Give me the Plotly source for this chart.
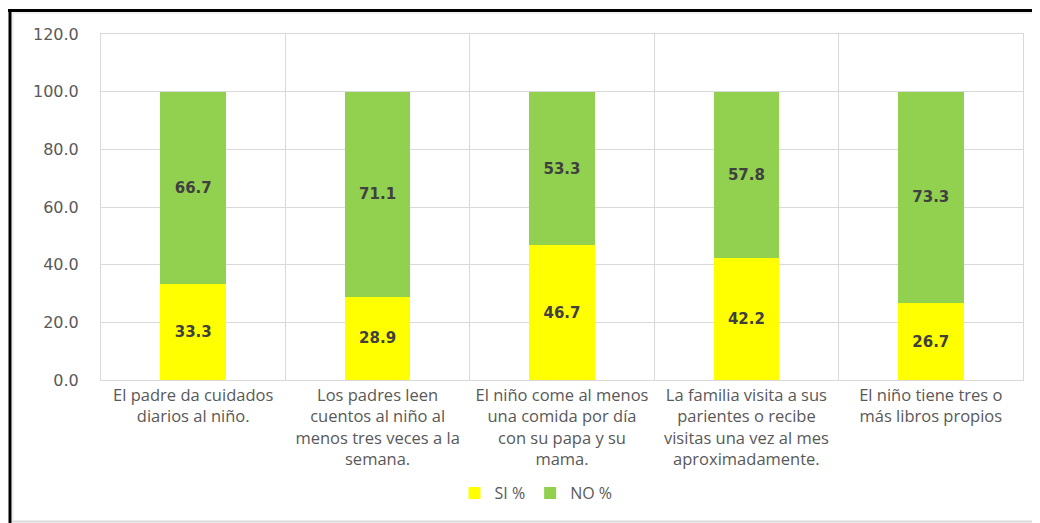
import plotly.graph_objects as go

categories = [
    "El padre da cuidados<br>diarios al niño.",
    "Los padres leen<br>cuentos al niño al<br>menos tres veces a la<br>semana.",
    "El niño come al menos<br>una comida por día<br>con su papa y su<br>mama.",
    "La familia visita a sus<br>parientes o recibe<br>visitas una vez al mes<br>aproximadamente.",
    "El niño tiene tres o<br>más libros propios",
]
si_values = [33.3, 28.9, 46.7, 42.2, 26.7]
no_values = [66.7, 71.1, 53.3, 57.8, 73.3]
series_names = ["SI %", "NO %"]
y_ticks = [0, 20, 40, 60, 80, 100, 120]

O = 8  # page body offset
W, H = 1040 - O, 523 - O
L, R, T, B = 101 - O, 17, 34 - O, 143
pw, ph = W - L - R, H - T - B

def px(x):
    return (x - O - L) / pw

def py(y):
    return (H + O - B - y) / ph

label_font = dict(family="DejaVu Sans", size=15, color="#404040", weight="bold")

fig = go.Figure()
fig.add_trace(go.Bar(
    x=categories, y=si_values, name=series_names[0],
    marker=dict(color="#FFFF00", line=dict(width=0)),
    text=[f"{v:.1f}" for v in si_values], textposition="inside",
    insidetextanchor="middle", textfont=label_font, textangle=0,
))
fig.add_trace(go.Bar(
    x=categories, y=no_values, name=series_names[1],
    marker=dict(color="#92D050", line=dict(width=0)),
    text=[f"{v:.1f}" for v in no_values], textposition="inside",
    insidetextanchor="middle", textfont=label_font, textangle=0,
))

fig.update_layout(
    width=W, height=H,
    margin=dict(l=L, r=R, t=T, b=B),
    barmode="stack", bargap=0.645,
    plot_bgcolor="white", paper_bgcolor="white",
    legend=dict(orientation="h", x=px(536), y=py(493), xanchor="center",
                yanchor="middle", font=dict(family="Open Sans", size=16, color="#595959"),
                traceorder="normal", itemwidth=30),
    showlegend=True,
)
fig.update_xaxes(
    tickson="boundaries", showgrid=True, gridcolor="#d9d9d9", gridwidth=1,
    showline=True, linecolor="#d9d9d9", mirror=True, ticks="",
    tickfont=dict(family="Open Sans", size=16.5, color="#595959"),
    fixedrange=True,
)
fig.update_yaxes(
    range=[0, 120], tickvals=y_ticks, tickformat=".1f",
    showgrid=True, gridcolor="#d9d9d9", gridwidth=1,
    showline=True, linecolor="#d9d9d9", mirror=True, zeroline=False,
    ticks="outside", ticklen=18, tickcolor="rgba(0,0,0,0)",
    tickfont=dict(family="DejaVu Sans", size=16, color="#595959"),
)

shapes = [
    dict(type="line", xref="paper", yref="paper", x0=px(8), x1=px(1045),
         y0=py(10.5), y1=py(10.5), line=dict(color="black", width=3)),
    dict(type="line", xref="paper", yref="paper", x0=px(10), x1=px(10),
         y0=py(9), y1=py(525), line=dict(color="black", width=3)),
    dict(type="line", xref="paper", yref="paper", x0=px(12), x1=px(1045),
         y0=py(521.5), y1=py(521.5), line=dict(color="#d9d9d9", width=2)),
    dict(type="line", xref="paper", yref="paper", x0=px(13), x1=px(13),
         y0=py(13), y1=py(521), line=dict(color="#e6e6e6", width=1)),
    dict(type="line", xref="paper", yref="paper", x0=px(12), x1=px(1045),
         y0=py(13), y1=py(13), line=dict(color="#e6e6e6", width=1)),
]
fig.update_layout(shapes=shapes)

fig.write_html("out.html")
